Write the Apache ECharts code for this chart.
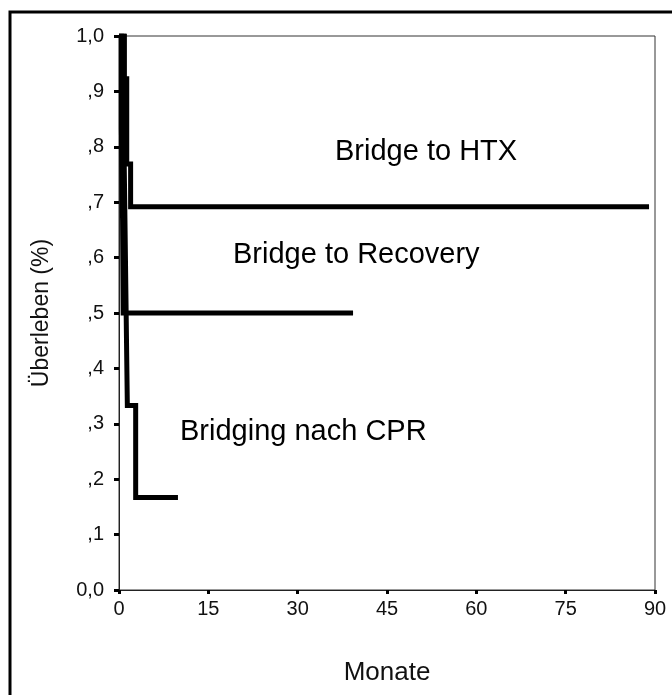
<!DOCTYPE html>
<html>
<head>
<meta charset="utf-8">
<script src="https://cdn.jsdelivr.net/npm/echarts@6/dist/echarts.min.js"></script>
<style>
html,body{margin:0;padding:0;background:#fff;}
#chart{width:672px;height:695px;}
</style>
</head>
<body>
<div id="chart"></div>
<script>
// Kaplan-Meier curves (time in months, survival fraction)
const htxTime = [0, 0.9, 1.3, 1.95, 89];
const htxSurv = [1, 0.923, 0.769, 0.692, 0.692];

const recTime = [0, 0.4, 0.6, 0.7, 39.3];
const recSurv = [1, 0.833, 0.667, 0.5, 0.5];

const cprTime = [0, 0.8, 1.0, 1.2, 1.4, 2.8, 9.9];
const cprSurv = [1, 0.833, 0.667, 0.5, 0.333, 0.167, 0.167];

const yTickLabels = ['0,0', ',1', ',2', ',3', ',4', ',5', ',6', ',7', ',8', ',9', '1,0'];
const xTickLabels = ['0', '15', '30', '45', '60', '75', '90'];

const seriesNames = ['Bridge to HTX', 'Bridge to Recovery', 'Bridging nach CPR'];

function pairs(t, s) { return t.map((v, i) => [v, s[i]]); }

const chart = echarts.init(document.getElementById('chart'), null, {renderer: 'canvas'});
const font = 'Liberation Sans, Arial, sans-serif';

const lineStyle = {color: '#000', width: 5, cap: 'butt', join: 'miter'};

chart.setOption({
  animation: false,
  backgroundColor: '#fff',
  grid: {left: 119, right: 17, top: 36, bottom: 105, show: true, borderColor: '#333', borderWidth: 1, backgroundColor: 'transparent'},
  xAxis: {
    type: 'value', min: 0, max: 90, interval: 15,
    name: 'Monate', nameLocation: 'middle', nameGap: 70,
    nameTextStyle: {fontFamily: font, fontSize: 26, color: '#111'},
    axisLine: {show: true, lineStyle: {color: '#222', width: 1}},
    axisTick: {show: true, length: 4, lineStyle: {color: '#000', width: 3}},
    axisLabel: {margin: 9, fontFamily: font, fontSize: 20, color: '#111',
      formatter: v => xTickLabels[Math.round(v / 15)]},
    splitLine: {show: false}
  },
  yAxis: {
    type: 'value', min: 0, max: 1, interval: 0.1,
    name: 'Überleben (%)', nameLocation: 'middle', nameGap: 66,
    nameTextStyle: {fontFamily: font, fontSize: 23, color: '#111'},
    axisLine: {show: true, lineStyle: {color: '#222', width: 1}},
    axisTick: {show: true, length: 5, lineStyle: {color: '#000', width: 3}},
    axisLabel: {margin: 15, fontFamily: font, fontSize: 20, color: '#111',
      formatter: v => yTickLabels[Math.round(v * 10)]},
    splitLine: {show: false}
  },
  series: [
    {name: seriesNames[0], type: 'line', step: 'end', symbol: 'none', data: pairs(htxTime, htxSurv), lineStyle: lineStyle},
    {name: seriesNames[1], type: 'line', step: 'end', symbol: 'none', data: pairs(recTime, recSurv), lineStyle: lineStyle},
    {name: seriesNames[2], type: 'line', step: 'end', symbol: 'none', data: pairs(cprTime, cprSurv), lineStyle: lineStyle}
  ],
  graphic: [
    {type: 'rect', shape: {x: 10, y: 12, width: 720, height: 720}, style: {fill: 'none', stroke: '#000', lineWidth: 3}, silent: true, z: 100},
    {type: 'text', left: 335, top: 137, style: {text: seriesNames[0], font: '29px ' + font, fill: '#000'}},
    {type: 'text', left: 233, top: 240, style: {text: seriesNames[1], font: '29px ' + font, fill: '#000'}},
    {type: 'text', left: 180, top: 417, style: {text: seriesNames[2], font: '29px ' + font, fill: '#000'}}
  ]
});
</script>
</body>
</html>
